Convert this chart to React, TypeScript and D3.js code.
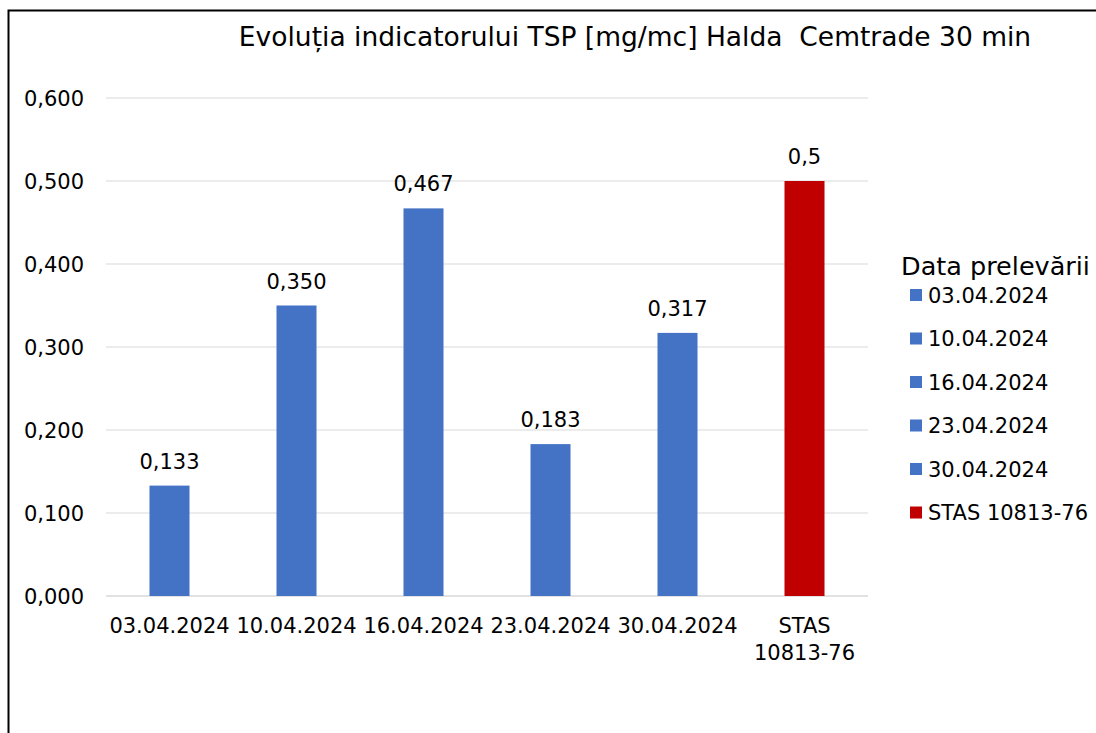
import React from "react";
import * as d3 from "d3";

const categories = ["03.04.2024", "10.04.2024", "16.04.2024", "23.04.2024", "30.04.2024", "STAS 10813-76"];
const values = [0.133, 0.35, 0.467, 0.183, 0.317, 0.5];
const valueLabels = ["0,133", "0,350", "0,467", "0,183", "0,317", "0,5"];
const colors = ["#4472C4", "#4472C4", "#4472C4", "#4472C4", "#4472C4", "#C00000"];
const yTicks = [0, 0.1, 0.2, 0.3, 0.4, 0.5, 0.6];
const titleText = "Evoluția indicatorului TSP [mg/mc] Halda  Cemtrade 30 min";
const legendTitle = "Data prelevării";

export default function App() {
  const W = 1096, H = 733;
  const left = 106, right = 868, top = 98, bottom = 596;
  const x = d3.scaleBand<string>().domain(categories).range([left, right]).paddingInner(0.685).paddingOuter(0.3425);
  const y = d3.scaleLinear().domain([0, 0.6]).range([bottom, top]);
  const fmt = (v: number) => d3.format(".3f")(v).replace(".", ",");
  const font = "DejaVu Sans, Verdana, sans-serif";
  const fs = 21;
  return (
    <svg width={W} height={H} style={{ position: "absolute", left: 0, top: 0, background: "#fff" }} fontFamily={font}>
      <rect x={0} y={0} width={W} height={H} fill="#fff" />
      <path d={`M8.5,${H} L8.5,10.5 L${W},10.5`} fill="none" stroke="#000" strokeWidth={2} />
      <text x={635} y={46} textAnchor="middle" fontSize={26.5} fill="#000" style={{ whiteSpace: "pre" }}>{titleText}</text>
      {yTicks.map((t) => (
        <g key={t}>
          <line x1={left} x2={right} y1={y(t)} y2={y(t)} stroke="#d9d9d9" strokeWidth={t === 0 ? 1.5 : 1} />
          <text x={84} y={y(t) + 7.5} textAnchor="end" fontSize={fs} fill="#000">{fmt(t)}</text>
        </g>
      ))}
      {categories.map((c, i) => (
        <g key={c}>
          <rect x={x(c)} y={y(values[i])} width={x.bandwidth()} height={bottom - y(values[i])} fill={colors[i]} />
          <text x={(x(c) as number) + x.bandwidth() / 2} y={y(values[i]) - 17} textAnchor="middle" fontSize={fs} fill="#000">{valueLabels[i]}</text>
          {c.startsWith("STAS") ? (
            <text x={(x(c) as number) + x.bandwidth() / 2} y={633} textAnchor="middle" fontSize={fs} fill="#000">
              <tspan x={(x(c) as number) + x.bandwidth() / 2} dy={0}>STAS</tspan>
              <tspan x={(x(c) as number) + x.bandwidth() / 2} dy={27}>10813-76</tspan>
            </text>
          ) : (
            <text x={(x(c) as number) + x.bandwidth() / 2} y={633} textAnchor="middle" fontSize={fs} fill="#000">{c}</text>
          )}
        </g>
      ))}
      <text x={901} y={275} fontSize={25.5} fill="#000">{legendTitle}</text>
      {categories.map((c, i) => (
        <g key={"lg" + c}>
          <rect x={910} y={289 + i * 43.5} width={12} height={12} fill={colors[i]} />
          <text x={928} y={302.5 + i * 43.5} fontSize={fs} fill="#000">{c}</text>
        </g>
      ))}
    </svg>
  );
}
